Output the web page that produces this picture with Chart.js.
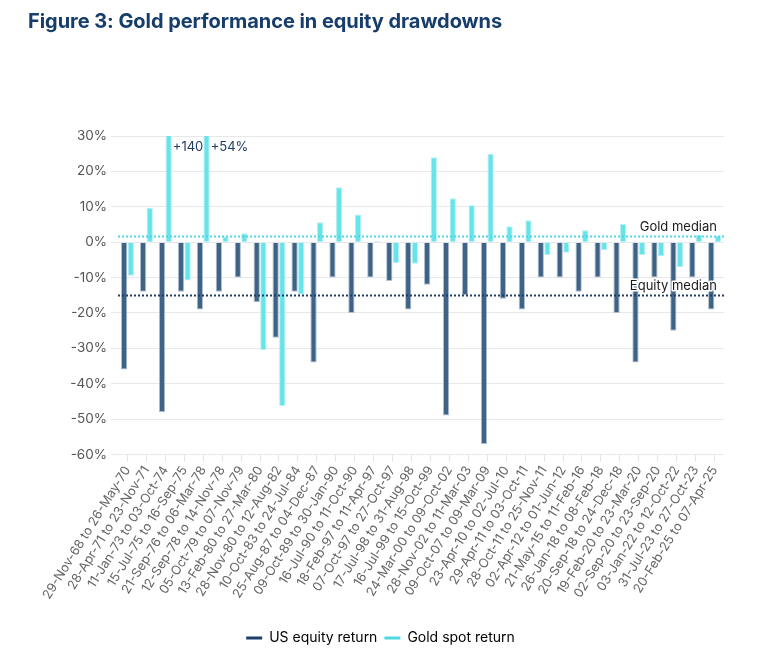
<!DOCTYPE html>
<html>
<head>
<meta charset="utf-8">
<script src="https://cdn.jsdelivr.net/npm/chart.js@4/dist/chart.umd.min.js"></script>
<style>
  html, body { margin: 0; padding: 0; background: #fff; }
  #wrap { position: relative; width: 761px; height: 669px; }
  #title { position: absolute; left: 28px; top: 9px; font: 700 20px Inter, "Noto Sans", sans-serif; color: #163d6b; letter-spacing: -0.05px; }
  canvas { position: absolute; left: 0; top: 0; }
</style>
</head>
<body>
<div id="wrap">
  <canvas id="chart" width="761" height="669"></canvas>
  <div id="title">Figure 3: Gold performance in equity drawdowns</div>
</div>
<script>
// ===== 数据 =====
const periods = [
  '29-Nov-68 to 26-May-70', '28-Apr-71 to 23-Nov-71', '11-Jan-73 to 03-Oct-74', '15-Jul-75 to 16-Sep-75',
  '21-Sep-76 to 06-Mar-78', '12-Sep-78 to 14-Nov-78', '05-Oct-79 to 07-Nov-79', '13-Feb-80 to 27-Mar-80',
  '28-Nov-80 to 12-Aug-82', '10-Oct-83 to 24-Jul-84', '25-Aug-87 to 04-Dec-87', '09-Oct-89 to 30-Jan-90',
  '16-Jul-90 to 11-Oct-90', '18-Feb-97 to 11-Apr-97', '07-Oct-97 to 27-Oct-97', '17-Jul-98 to 31-Aug-98',
  '16-Jul-99 to 15-Oct-99', '24-Mar-00 to 09-Oct-02', '28-Nov-02 to 11-Mar-03', '09-Oct-07 to 09-Mar-09',
  '23-Apr-10 to 02-Jul-10', '29-Apr-11 to 03-Oct-11', '28-Oct-11 to 25-Nov-11', '02-Apr-12 to 01-Jun-12',
  '21-May-15 to 11-Feb-16', '26-Jan-18 to 08-Feb-18', '20-Sep-18 to 24-Dec-18', '19-Feb-20 to 23-Mar-20',
  '02-Sep-20 to 23-Sep-20', '03-Jan-22 to 12-Oct-22', '31-Jul-23 to 27-Oct-23', '20-Feb-25 to 07-Apr-25'
];
const equityReturn = [-36, -14, -48, -14, -19, -14, -10, -17, -27, -14, -34, -10, -20, -10, -11, -19,
  -12, -49, -15, -57, -16, -19, -10, -10, -14, -10, -20, -34, -10, -25, -10, -19];
const goldReturn = [-9.5, 9.7, 140, -10.8, 54, 1.5, 2.5, -30.5, -46.3, -14.8, 5.6, 15.5, 7.8, 0.3, -5.9, -6.1,
  24, 12.4, 10.4, 25, 4.5, 6.2, -3.6, -3, 3.4, -2.3, 5.1, -3.6, -4, -7, 2, 1.8];
const goldMedian = 1.8;
const equityMedian = -15;
// 超出坐标轴的柱子，标注真实数值
const clippedNotes = [[2, '+140'], [4, '+54%']];
const yTicks = [30, 20, 10, 0, -10, -20, -30, -40, -50, -60];

const EQUITY = '#3f6386';
const GOLD = '#67e3ea';
const FONT = 'Inter, "Noto Sans", sans-serif';

// 中位线 + 文字
const medianPlugin = {
  id: 'medians',
  afterDatasetsDraw(chart) {
    const { ctx, chartArea: a, scales: { y } } = chart;
    ctx.save();
    const lines = [
      { v: goldMedian, color: '#4fd6e0', text: 'Gold median' },
      { v: equityMedian, color: '#1f3d66', text: 'Equity median' },
    ];
    for (const l of lines) {
      const py = Math.round(y.getPixelForValue(l.v)) + 0.5;
      ctx.strokeStyle = l.color;
      ctx.lineWidth = 2;
      ctx.setLineDash([2, 2]);
      ctx.beginPath(); ctx.moveTo(a.left, py); ctx.lineTo(a.right, py); ctx.stroke();
      ctx.setLineDash([]);
      ctx.font = '13px ' + FONT;
      ctx.textAlign = 'right';
      ctx.textBaseline = 'bottom';
      ctx.lineJoin = 'round';
      ctx.lineWidth = 3;
      ctx.strokeStyle = '#fff';
      ctx.strokeText(l.text, a.right - 7, py - 3);
      ctx.fillStyle = '#1a1a1a';
      ctx.fillText(l.text, a.right - 7, py - 3);
    }
    // 截断柱子的标注
    const meta = chart.getDatasetMeta(1);
    ctx.font = '13px ' + FONT;
    ctx.fillStyle = '#1f3d66';
    ctx.textAlign = 'left';
    ctx.textBaseline = 'middle';
    for (const [i, t] of clippedNotes) {
      const bar = meta.data[i];
      ctx.fillText(t, bar.x + bar.width / 2 + 1, a.top + 11);
    }
    ctx.restore();
  }
};

new Chart(document.getElementById('chart'), {
  type: 'bar',
  data: {
    labels: periods,
    datasets: [
      { label: 'US equity return', data: equityReturn, backgroundColor: EQUITY, borderColor: '#aebfcf', borderWidth: 1,
        categoryPercentage: 0.7, barPercentage: 0.95 },
      { label: 'Gold spot return', data: goldReturn, backgroundColor: GOLD, borderColor: '#b5f0f3', borderWidth: 1,
        categoryPercentage: 0.7, barPercentage: 0.95 },
    ],
  },
  options: {
    responsive: false,
    animation: false,
    layout: { padding: { top: 136, right: 37, bottom: 14, left: 37 } },
    plugins: {
      legend: {
        position: 'bottom',
        labels: {
          font: { size: 14, family: FONT }, color: '#222', padding: 7,
          usePointStyle: true, pointStyleWidth: 16,
          generateLabels: () => [
            { text: 'US equity return', strokeStyle: '#1f3f6b', fillStyle: '#1f3f6b', lineWidth: 3, pointStyle: 'line', datasetIndex: 0 },
            { text: 'Gold spot return', strokeStyle: '#4fd9e3', fillStyle: '#4fd9e3', lineWidth: 3, pointStyle: 'line', datasetIndex: 1 },
          ],
        },
      },
      tooltip: { enabled: false },
    },
    scales: {
      x: {
        afterFit: (s) => { s.height = 169.5; },
        grid: { offset: false, drawOnChartArea: false, drawTicks: true, tickLength: 7, color: '#e3e3e3' },
        border: { display: false },
        ticks: { autoSkip: false, minRotation: 58, maxRotation: 58, color: '#666', font: { size: 12.8, family: FONT }, padding: 2 },
      },
      y: {
        min: -60, max: 30,
        afterFit: (s) => { s.width = 81; },
        afterBuildTicks: (s) => { s.ticks = yTicks.map((v) => ({ value: v })); },
        grid: { color: '#e8e8e8', tickLength: 7 },
        border: { display: false },
        ticks: { color: '#555', font: { size: 13.5, family: FONT }, padding: 4, callback: (v) => v + '%' },
      },
    },
  },
  plugins: [medianPlugin],
});
</script>
</body>
</html>
